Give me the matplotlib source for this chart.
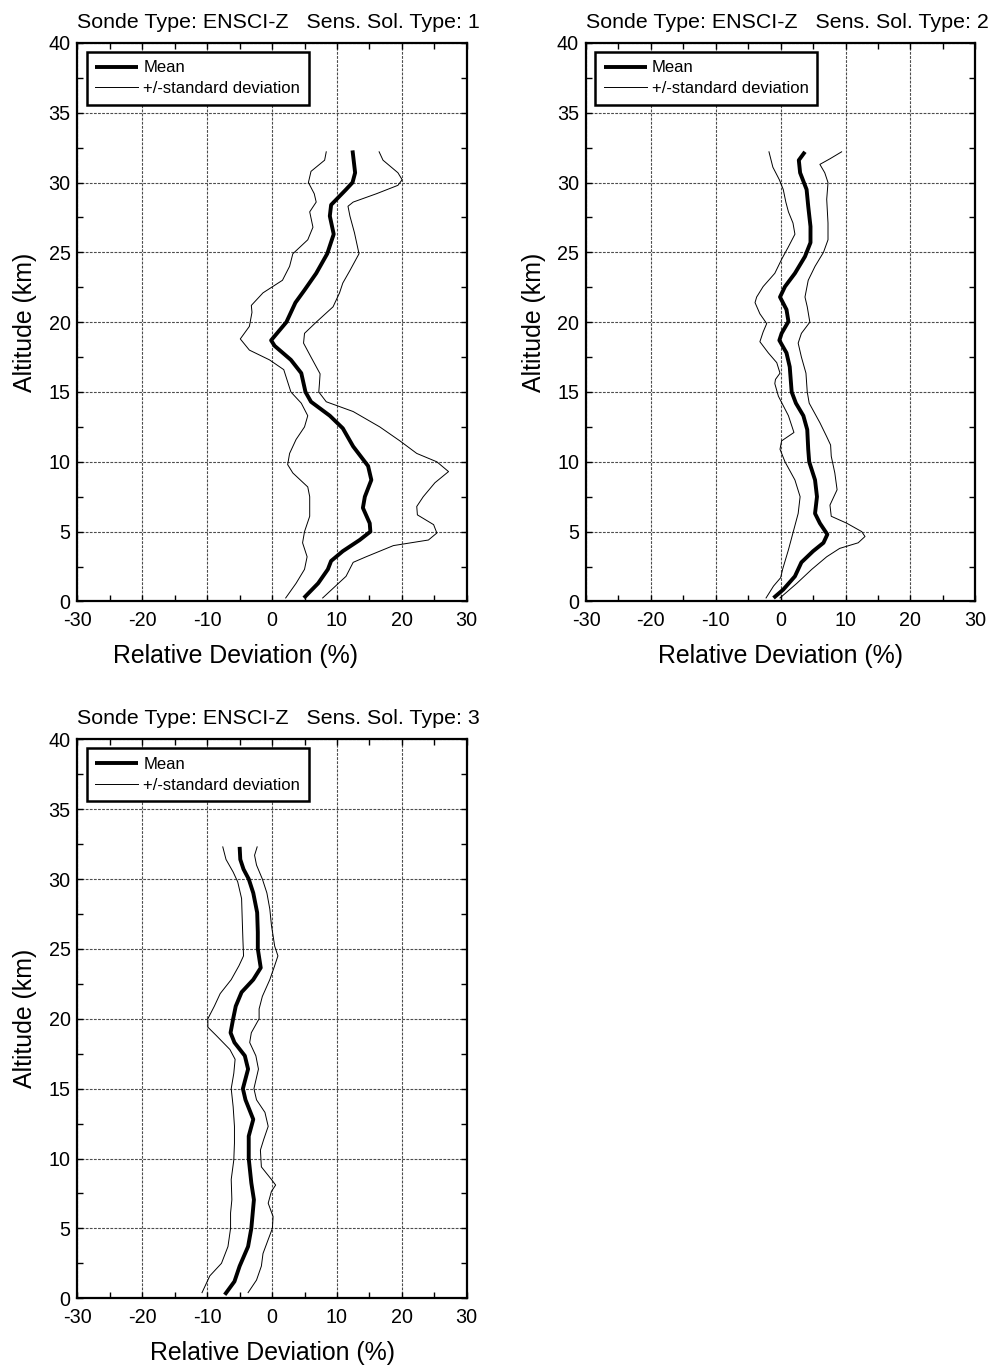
import matplotlib
matplotlib.use("Agg")
import matplotlib.pyplot as plt

plt.rcParams['font.family'] = ['Liberation Sans', 'DejaVu Sans']
plt.rcParams['axes.unicode_minus'] = False

# Sens. Sol. Type 1
mean1_alt = [32.3, 30.7, 30.0, 29.5, 28.4, 27.6, 26.3, 24.9, 23.5, 22.3, 21.4, 20.0, 18.7, 18.3, 17.3,
             16.35, 15.0, 14.3, 13.3, 12.4, 11.1, 9.7, 8.7, 7.5, 6.7, 5.6, 5.0, 4.4, 3.6, 2.9, 2.3, 1.3, 0.25]
mean1_val = [12.4, 12.8, 12.4, 11.4, 9.1, 8.9, 9.5, 8.5, 6.8, 5.0, 3.6, 2.2, -0.15, 0.4, 2.9,
             4.5, 5.15, 6.0, 8.9, 10.9, 12.5, 14.8, 15.3, 14.3, 14.0, 15.05, 15.15, 13.5, 10.9, 9.1, 8.6, 7.1, 4.9]
low1_alt = [32.2, 31.6, 30.8, 30.0, 29.2, 28.6, 27.9, 26.8, 25.9, 24.9, 24.0, 23.0, 22.1, 21.2, 20.7, 19.7,
            18.8, 18.0, 17.3, 16.6, 15.0, 14.2, 13.3, 12.5, 11.6, 10.6, 9.8, 9.2, 8.2, 7.5, 6.1, 5.0, 4.2,
            3.2, 2.3, 1.3, 0.25]
low1_val = [8.35, 8.1, 6.0, 5.6, 6.5, 6.8, 5.8, 6.3, 5.5, 3.2, 2.7, 1.6, -1.4, -3.2, -3.1, -3.5,
            -4.9, -3.5, -0.4, 1.8, 2.9, 4.5, 5.5, 5.0, 3.7, 2.7, 2.4, 3.2, 5.5, 5.8, 5.8, 5.0, 4.7,
            5.4, 5.0, 3.7, 2.1]
up1_alt = [32.2, 31.6, 30.7, 30.2, 29.8, 29.2, 28.6, 28.3, 27.6, 26.4, 24.9, 23.7, 22.8, 22.1, 21.1, 20.0,
           19.2, 18.5, 17.5, 16.3, 15.6, 15.0, 14.3, 13.6, 12.5, 11.5, 10.6, 10.0, 9.3, 8.5, 7.5, 6.8,
           6.2, 5.5, 4.9, 4.4, 4.0, 3.2, 2.8, 1.8, 0.25]
up1_val = [16.5, 17.1, 19.4, 20.05, 19.4, 16.1, 12.5, 11.7, 12.0, 12.7, 13.4, 12.0, 10.9, 10.4, 9.4, 6.8,
           5.0, 4.85, 6.0, 7.4, 7.3, 7.2, 8.35, 12.5, 16.6, 19.7, 22.3, 25.4, 27.2, 25.1, 23.3, 22.3,
           22.4, 24.9, 25.4, 24.1, 18.7, 14.5, 12.5, 11.4, 7.8]

# Sens. Sol. Type 2
mean2_alt = [32.2, 31.6, 30.7, 29.5, 28.3, 26.85, 25.7, 24.7, 23.5, 22.55, 21.8, 20.9, 20.05, 19.2, 18.7,
             17.8, 16.8, 15.0, 14.2, 13.3, 12.3, 10.9, 10.0, 8.7, 7.5, 6.3, 5.6, 4.8, 4.2, 3.6, 2.8,
             1.8, 0.85, 0.25]
mean2_val = [3.75, 2.8, 3.0, 4.0, 4.25, 4.6, 4.6, 3.75, 2.2, 0.67, -0.1, 0.9, 1.2, 0.15, -0.2,
             0.9, 1.4, 1.7, 2.35, 3.5, 4.1, 4.25, 4.4, 5.3, 5.6, 5.3, 6.05, 7.2, 6.6, 5.0, 3.2,
             2.2, 0.4, -1.1]
low2_alt = [32.2, 31.1, 30.2, 29.5, 28.6, 27.9, 27.1, 26.3, 25.4, 24.5, 23.5, 22.55, 21.8, 21.4, 20.6,
            19.9, 19.3, 18.6, 17.8, 17.1, 16.35, 15.9, 15.6, 14.7, 13.3, 12.1, 11.5, 10.9, 10.0, 8.7,
            7.5, 6.3, 5.0, 3.7, 2.3, 1.7, 1.1, 0.25]
low2_val = [-1.8, -1.2, -0.2, 0.4, 0.8, 1.2, 1.9, 2.2, 1.2, 0.15, -0.9, -2.7, -3.7, -3.95, -3.2,
            -2.15, -2.7, -3.2, -1.9, -0.6, -0.1, -0.8, -0.9, -0.35, 1.2, 2.05, 0.15, -0.1, 0.67, 2.2,
            3.0, 2.7, 1.95, 1.2, 0.3, 0.0, -1.1, -2.25]
up2_alt = [32.2, 31.7, 31.3, 30.7, 30.0, 28.8, 27.1, 25.9, 25.0, 24.0, 23.0, 21.8, 21.1, 20.0, 19.2,
           18.5, 17.5, 16.35, 15.0, 14.2, 12.8, 11.8, 11.2, 10.4, 9.2, 8.0, 6.9, 6.1, 5.6, 5.0,
           4.65, 4.2, 3.8, 3.2, 2.3, 1.3, 0.25]
up2_val = [9.4, 7.6, 6.05, 6.8, 7.3, 7.1, 7.3, 7.3, 6.6, 5.3, 4.25, 3.75, 4.1, 4.5, 3.2,
           2.7, 3.2, 3.9, 4.1, 4.4, 6.05, 7.1, 7.7, 7.8, 8.35, 8.7, 7.6, 7.8, 10.2, 12.5,
           13.0, 11.95, 9.1, 7.1, 4.8, 2.5, -0.1]

# Sens. Sol. Type 3
mean3_alt = [32.3, 31.4, 30.7, 30.0, 29.0, 27.6, 26.2, 25.0, 23.65, 22.8, 21.9, 20.9, 20.0, 19.0, 18.3,
             17.35, 16.4, 15.0, 14.2, 12.8, 11.6, 10.0, 8.25, 7.05, 5.0, 3.7, 2.3, 1.2, 0.25]
mean3_val = [-5.0, -4.9, -4.4, -3.6, -2.9, -2.3, -2.2, -2.2, -1.75, -2.9, -4.7, -5.6, -6.0, -6.4, -5.8,
             -4.2, -3.7, -4.5, -4.1, -2.9, -3.6, -3.6, -3.2, -2.8, -3.2, -3.7, -5.0, -5.8, -7.3]
low3_alt = [32.3, 31.4, 30.5, 29.8, 28.6, 27.1, 25.7, 24.5, 23.8, 22.8, 21.8, 20.9, 20.0, 19.4, 18.8,
            17.8, 17.1, 16.1, 15.0, 13.7, 12.3, 11.1, 9.9, 8.5, 7.05, 6.1, 5.0, 3.7, 2.5, 1.6, 0.4]
low3_val = [-7.6, -7.1, -6.0, -5.3, -4.7, -4.6, -4.5, -4.4, -5.1, -6.3, -8.0, -8.9, -9.9, -9.9, -8.6,
            -6.5, -5.7, -5.9, -6.3, -6.0, -5.8, -5.8, -5.9, -6.3, -6.2, -6.4, -6.4, -6.8, -7.8, -9.6, -10.8]
up3_alt = [32.3, 31.7, 31.0, 30.0, 29.0, 27.85, 26.7, 25.2, 24.5, 23.8, 22.8, 21.6, 20.7, 20.0, 19.0,
           18.3, 17.35, 16.4, 15.0, 14.2, 13.3, 12.3, 11.35, 10.6, 9.4, 8.5, 8.1, 7.65, 6.8, 5.85,
           5.0, 4.2, 3.2, 2.3, 1.3, 0.4]
up3_val = [-2.3, -2.7, -2.4, -1.5, -0.8, -0.35, -0.1, 0.4, 0.9, 0.4, -0.35, -1.5, -2.0, -2.0, -3.2,
           -3.45, -2.5, -2.1, -2.8, -2.4, -1.1, -0.6, -1.3, -1.8, -1.65, -0.1, 0.55, -0.1, -0.6, 0.15,
           0.05, -0.6, -1.4, -1.65, -2.4, -3.7]

sol_types = [1, 2, 3]
panels = [
    (mean1_alt, mean1_val, low1_alt, low1_val, up1_alt, up1_val),
    (mean2_alt, mean2_val, low2_alt, low2_val, up2_alt, up2_val),
    (mean3_alt, mean3_val, low3_alt, low3_val, up3_alt, up3_val),
]

# axes rectangles in figure fractions, plus x position of the x label
rects = [
    [0.0777, 0.5597, 0.3904, 0.4089],
    [0.5878, 0.5597, 0.3904, 0.4089],
    [0.0777, 0.0496, 0.3904, 0.4092],
]
xlabel_pos = [0.407, 0.5, 0.5]


def draw_panel(ax, sol, data, xl):
    m_alt, m_val, l_alt, l_val, u_alt, u_val = data
    ax.plot(m_val, m_alt, color='black', lw=2.8, solid_joinstyle='round',
            solid_capstyle='butt', label='Mean')
    ax.plot(l_val, l_alt, color='black', lw=0.7, label='+/-standard deviation')
    ax.plot(u_val, u_alt, color='black', lw=0.7)

    ax.set_xlim(-30, 30)
    ax.set_ylim(0, 40)
    ax.set_xticks(range(-30, 31, 10))
    ax.set_xticks(range(-25, 30, 10), minor=True)
    ax.set_yticks(range(0, 41, 5))
    ax.set_yticks([2.5 + 5 * i for i in range(8)], minor=True)
    ax.tick_params(which='both', direction='in', top=True, right=True,
                   length=4.5, width=1, labelsize=14.2, colors='black')
    ax.tick_params(axis='x', pad=7)
    ax.tick_params(axis='y', pad=5)
    ax.grid(True, which='major', color='0.3', lw=0.8, ls=(0, (2.5, 1.2)))
    for s in ax.spines.values():
        s.set_linewidth(1.6)

    ax.set_xlabel('Relative Deviation (%)', fontsize=17.9, labelpad=10)
    ax.xaxis.label.set_x(xl)
    ax.set_ylabel('Altitude (km)', fontsize=17.9, labelpad=8)
    ax.set_title('Sonde Type: ENSCI-Z   Sens. Sol. Type: %d' % sol,
                 loc='left', fontsize=15.4, pad=11)

    leg = ax.legend(loc='upper left', fontsize=12, frameon=True, fancybox=False,
                    framealpha=1, edgecolor='black', handlelength=2.6, handletextpad=0.3,
                    labelspacing=0.35, borderpad=0.5, borderaxespad=0.55)
    leg.get_frame().set_linewidth(1.8)


fig = plt.figure(figsize=(9.97, 13.66), dpi=100)
for sol, data, r, xl in zip(sol_types, panels, rects, xlabel_pos):
    ax = fig.add_axes(r)
    draw_panel(ax, sol, data, xl)

plt.savefig('out.png', dpi=100)
